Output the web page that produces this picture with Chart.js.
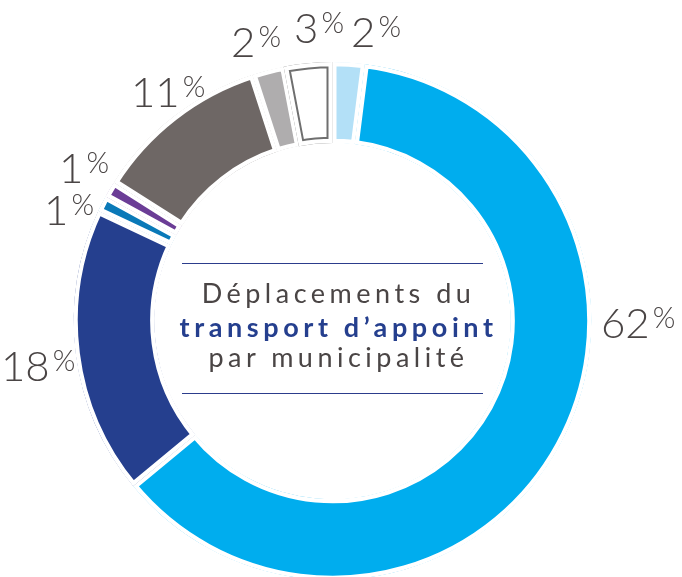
<!DOCTYPE html>
<html lang="fr">
<head>
<meta charset="utf-8">
<script src="https://cdn.jsdelivr.net/npm/chart.js@4.4.0/dist/chart.umd.min.js"></script>
<style>
  html, body { margin: 0; padding: 0; background: #ffffff; overflow: hidden; }
  #wrap { position: relative; width: 682px; height: 577px; overflow: hidden; }
  #chart { position: absolute; left: 0; top: 0; }
  .lbl { position: absolute; font-family: "Lato", sans-serif; font-weight: 300; font-size: 42px;
         line-height: 1; color: #4a4545; white-space: nowrap; }
  .lbl .pc { font-size: 29px; vertical-align: top; margin-left: 3px; position: relative; top: 1px; }
  .rule { position: absolute; left: 182px; width: 301px; height: 0; border-top: 1.3px solid #2c3d8c; }
  .ctext { position: absolute; left: 150px; width: 368px; text-align: center; line-height: 32px;
           font-family: "Lato", sans-serif; white-space: nowrap; }
  .light { font-weight: 400; font-size: 27px; color: #4a4545; letter-spacing: 4.5px; padding-left: 4.5px; }
  .bold { font-weight: 700; font-size: 27px; color: #253f8e; letter-spacing: 4.6px; padding-left: 4.6px; }
</style>
</head>
<body>
<div id="wrap">
  <canvas id="chart" width="682" height="600"></canvas>
</div>
<script>
// ---- data ----
const categories = ['Municipalité 1', 'Municipalité 2', 'Municipalité 3', 'Municipalité 4',
                    'Municipalité 5', 'Municipalité 6', 'Municipalité 7', 'Municipalité 8'];
const values = [2, 62, 18, 1, 1, 11, 2, 3];
const sliceColors = ['#b3e0f7', '#00adee', '#253f8e', '#0a79b8', '#6b3d96', '#6e6765', '#afadae', '#ffffff'];
const outlinedSlices = [7];
const centerTitle = ['Déplacements du', 'transport d’appoint', 'par municipalité'];

// ---- label layout (text positions only) ----
const labelPos = [
  { left: 351, top: 10 },
  { left: 601, top: 301 },
  { left: 1,   top: 344 },
  { left: 44,  top: 188 },
  { left: 59,  top: 146 },
  { left: 131, top: 70 },
  { left: 231, top: 20 },
  { left: 294, top: 6 }
];

const wrap = document.getElementById('wrap');
values.forEach((v, i) => {
  const d = document.createElement('div');
  d.className = 'lbl';
  d.style.left = labelPos[i].left + 'px';
  d.style.top = labelPos[i].top + 'px';
  d.innerHTML = v + '<span class="pc">%</span>';
  wrap.appendChild(d);
});

// center block
[263, 393].forEach(y => {
  const r = document.createElement('div');
  r.className = 'rule';
  r.style.top = y + 'px';
  wrap.appendChild(r);
});
const centerTops = [277, 311, 341];
const centerClass = ['light', 'bold', 'light'];
centerTitle.forEach((t, i) => {
  const d = document.createElement('div');
  d.className = 'ctext ' + centerClass[i];
  d.style.top = centerTops[i] + 'px';
  d.textContent = t;
  wrap.appendChild(d);
});

// plugin: draw a thin grey outline inset in outlined slices, through the arc element itself
const outlinePlugin = {
  id: 'outlineSlices',
  afterDatasetsDraw(chart) {
    const ctx = chart.ctx;
    const meta = chart.getDatasetMeta(0);
    outlinedSlices.forEach(i => {
      const arc = meta.data[i];
      const saved = arc.options;
      arc.options = Object.assign({}, saved, { backgroundColor: 'rgba(0,0,0,0)', borderColor: '#6f6f6f', borderWidth: 6, borderAlign: 'inner', borderJoinStyle: 'miter' });
      arc.draw(ctx);
      arc.options = Object.assign({}, saved, { backgroundColor: 'rgba(0,0,0,0)', borderColor: '#ffffff', borderWidth: 4, borderAlign: 'inner', borderJoinStyle: 'miter' });
      arc.draw(ctx);
      arc.options = saved;
    });
  }
};

new Chart(document.getElementById('chart'), {
  type: 'doughnut',
  data: {
    labels: categories,
    datasets: [{
      data: values,
      backgroundColor: sliceColors,
      borderColor: '#ffffff',
      borderWidth: 4,
      borderAlign: 'inner',
      borderJoinStyle: 'miter',
      hoverOffset: 0
    }]
  },
  options: {
    responsive: false,
    devicePixelRatio: 1,
    animation: false,
    events: [],
    radius: 259,
    cutout: 178,
    rotation: 0,
    layout: { padding: { left: 73.5, right: 90.5, top: 62, bottom: 20 } },
    plugins: { legend: { display: false }, tooltip: { enabled: false } }
  },
  plugins: [outlinePlugin]
});
</script>
</body>
</html>
